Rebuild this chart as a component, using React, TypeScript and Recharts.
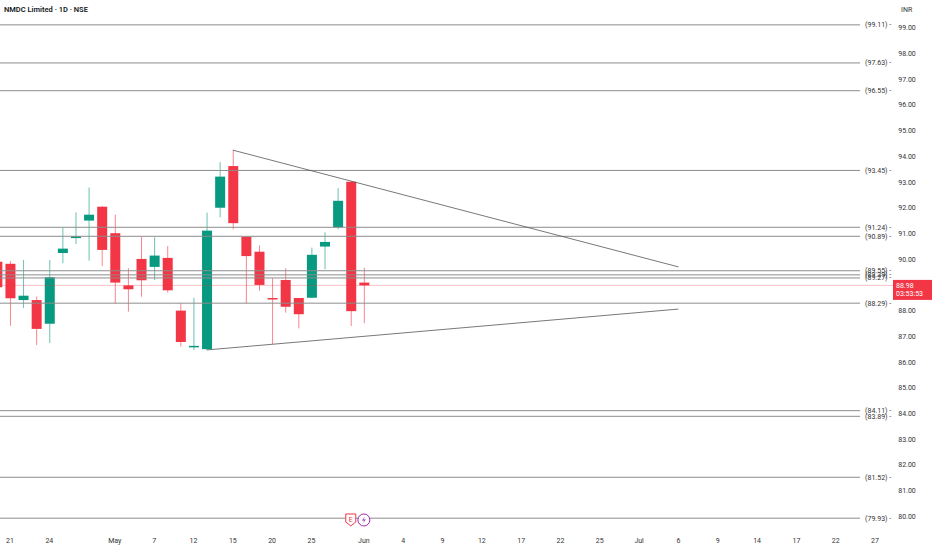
import React from "react";
import {
  ComposedChart,
  Bar,
  XAxis,
  YAxis,
  ReferenceLine,
  ReferenceDot,
} from "recharts";

// daily candles, bar index -1 .. 27 (index 0 = Apr 21)
const FIRST_INDEX = -1;
const OPEN = [
  89.9, 89.82, 88.41, 88.41, 87.49, 90.24, 90.82, 91.5, 92.04, 91.01, 88.98, 90.01, 89.7, 90.05, 88.0,
  86.59, 86.5, 92.0, 93.62, 90.87, 90.29, 88.49, 89.19, 88.49, 88.5, 90.49, 91.24, 93.01, 89.09,
];
const HIGH = [
  89.96, 89.93, 89.97, 88.55, 89.97, 91.22, 91.82, 92.79, 92.06, 91.73, 89.65, 90.87, 90.85, 90.51, 88.28,
  88.5, 91.81, 93.78, 94.24, 90.89, 90.54, 89.26, 89.65, 88.5, 90.45, 91.05, 92.76, 93.03, 89.67,
];
const LOW = [
  88.8, 87.41, 88.1, 86.66, 86.74, 89.84, 90.59, 89.94, 89.73, 88.28, 87.96, 88.54, 89.19, 88.7, 86.6,
  86.47, 86.48, 91.63, 91.16, 88.28, 88.77, 86.7, 87.92, 87.31, 88.48, 89.61, 91.16, 87.4, 87.51,
];
const CLOSE = [
  88.91, 88.48, 88.58, 87.29, 89.3, 90.41, 90.89, 91.73, 90.36, 89.09, 88.83, 89.18, 90.14, 88.79, 86.78,
  86.63, 91.11, 93.21, 91.4, 90.12, 89.0, 88.47, 88.15, 87.86, 90.17, 90.67, 92.27, 87.98, 88.98,
];

const LEVELS = [99.11, 97.63, 96.55, 93.45, 91.24, 90.89, 89.55, 89.39, 89.27, 88.29, 84.11, 83.89, 81.52, 79.93];

const UPPER_TREND = [{ i: 17, p: 94.24 }, { i: 51, p: 89.7 }];
const LOWER_TREND = [{ i: 15, p: 86.47 }, { i: 51, p: 88.06 }];

const X_TICKS = [0, 3, 8, 11, 14, 17, 20, 23, 27, 30, 33, 36, 39, 42, 45, 48, 51, 54, 57, 60, 63, 66];
const X_LABELS = ["21", "24", "May", "7", "12", "15", "20", "25", "Jun", "4", "9", "12", "17", "22", "25", "Jul", "6", "9", "14", "17", "22", "27"];
// 89.00 sits under the live price tag, so it is not shown
const Y_TICKS = [80, 81, 82, 83, 84, 85, 86, 87, 88, 90, 91, 92, 93, 94, 95, 96, 97, 98, 99];

const EVENTS = [{ i: 26, kind: "E" }, { i: 27, kind: "D" }];
const COUNTDOWN = "03:53:53";

const X_DOMAIN = [-0.763, 67.37];
const Y_DOMAIN = [79.548, 100.077];
const LEVEL_END = 64.86;
const EVENT_Y = 79.86;

const GREEN = "#089981";
const RED = "#f23645";
const FONT = "Roboto, sans-serif";

const data = OPEN.map((o, k) => ({
  i: FIRST_INDEX + k,
  open: o,
  high: HIGH[k],
  low: LOW[k],
  close: CLOSE[k],
  range: [LOW[k], HIGH[k]],
}));

function Candle(props: any) {
  const { x, y, width, height, payload } = props;
  if (!payload) return null;
  const { open, close, high, low } = payload;
  const top = Math.min(y, y + height);
  const h = Math.abs(height);
  const k = high === low ? 0 : h / (high - low);
  const cx = x + width / 2;
  const yO = top + (high - open) * k;
  const yC = top + (high - close) * k;
  const color = close >= open ? GREEN : RED;
  return (
    <g>
      <line x1={cx} x2={cx} y1={top} y2={top + h} stroke={color} strokeOpacity={0.6} />
      <rect x={cx - 5} y={Math.min(yO, yC)} width={10} height={Math.max(1.5, Math.abs(yO - yC))} fill={color} />
    </g>
  );
}

function XTick({ x, y, payload }: any) {
  const idx = X_TICKS.indexOf(payload.value);
  return (
    <text x={x} y={y} dy={15} textAnchor="middle" fontSize={7} fontFamily={FONT} fill="#333">
      {X_LABELS[idx]}
    </text>
  );
}

function YTick({ x, y, payload }: any) {
  return (
    <text x={x + 14} y={y} dy={2.5} textAnchor="middle" fontSize={7} fontFamily={FONT} fill="#333">
      {payload.value.toFixed(2)}
    </text>
  );
}

function PriceTag({ viewBox }: any) {
  const x = viewBox.x + viewBox.width;
  const y = viewBox.y;
  return (
    <g>
      <rect x={x} y={y - 5.5} width={40} height={20} fill={RED} />
      <text x={x + 3} y={y + 2.5} fontSize={7} fontFamily={FONT} fill="#fff">
        {CLOSE[CLOSE.length - 1].toFixed(2)}
      </text>
      <text x={x + 3} y={y + 11} fontSize={7} fontFamily={FONT} fill="#fff">
        {COUNTDOWN}
      </text>
    </g>
  );
}

function EventIcon({ cx, cy, kind }: any) {
  if (kind === "E") {
    return (
      <g>
        <path
          d={`M${cx - 5},${cy - 6} h10 v8 l-5,4 l-5,-4 z`}
          fill="#fff"
          stroke={RED}
          strokeWidth={1}
        />
        <text x={cx} y={cy + 2} textAnchor="middle" fontSize={7} fontFamily={FONT} fill={RED}>
          E
        </text>
      </g>
    );
  }
  return (
    <g>
      <circle cx={cx} cy={cy} r={6} fill="#fff" stroke="#9c27b0" strokeWidth={1} />
      <path d={`M${cx + 1.5},${cy - 4} l-3.5,4.5 h2.5 l-2,3.5 l3.5,-4.5 h-2.5 z`} fill="#9c27b0" />
    </g>
  );
}

export default function App() {
  return (
    <div style={{ position: "absolute", left: 0, top: 0, width: 932, height: 550, background: "#fff" }}>
      <div
        style={{
          position: "absolute",
          left: 4,
          top: 5,
          fontFamily: FONT,
          fontSize: 7.5,
          fontWeight: 600,
          color: "#131722",
        }}
      >
        NMDC Limited · 1D · NSE
      </div>
      <div style={{ position: "absolute", left: 901, top: 6, fontFamily: FONT, fontSize: 7, color: "#333" }}>
        INR
      </div>
      <ComposedChart width={932} height={550} data={data} margin={{ top: 0, right: 0, left: 0, bottom: 0 }}>
        <XAxis
          dataKey="i"
          type="number"
          domain={X_DOMAIN}
          allowDataOverflow
          ticks={X_TICKS}
          interval={0}
          tick={<XTick />}
          tickLine={false}
          axisLine={false}
          tickSize={0}
          tickMargin={0}
          height={22}
        />
        <YAxis
          orientation="right"
          type="number"
          domain={Y_DOMAIN}
          allowDataOverflow
          ticks={Y_TICKS}
          interval={0}
          tick={<YTick />}
          tickLine={false}
          axisLine={false}
          tickSize={0}
          tickMargin={0}
          width={39}
        />

        {LEVELS.map((v) => (
          <ReferenceLine
            key={v}
            segment={[
              { x: X_DOMAIN[0], y: v },
              { x: LEVEL_END, y: v },
            ]}
            stroke="#8c8c8c"
            strokeWidth={1}
            label={{
              value: `(${v.toFixed(2)}) -`,
              position: "right",
              offset: 5,
              fontSize: 7,
              fontFamily: FONT,
              fill: "#333",
            }}
          />
        ))}

        <ReferenceLine
          y={CLOSE[CLOSE.length - 1]}
          stroke={RED}
          strokeOpacity={0.3}
          label={<PriceTag />}
        />

        <ReferenceLine
          segment={[
            { x: UPPER_TREND[0].i, y: UPPER_TREND[0].p },
            { x: UPPER_TREND[1].i, y: UPPER_TREND[1].p },
          ]}
          stroke="#555"
          strokeWidth={0.8}
        />
        <ReferenceLine
          segment={[
            { x: LOWER_TREND[0].i, y: LOWER_TREND[0].p },
            { x: LOWER_TREND[1].i, y: LOWER_TREND[1].p },
          ]}
          stroke="#555"
          strokeWidth={0.8}
        />

        <Bar dataKey="range" barSize={10} shape={<Candle />} isAnimationActive={false} />

        {EVENTS.map((e) => (
          <ReferenceDot
            key={e.kind}
            x={e.i}
            y={EVENT_Y}
            r={6}
            shape={(p: any) => <EventIcon cx={p.cx} cy={p.cy} kind={e.kind} />}
          />
        ))}
      </ComposedChart>
    </div>
  );
}
